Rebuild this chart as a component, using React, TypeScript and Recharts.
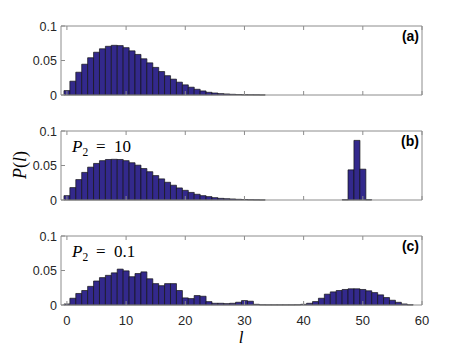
import React from "react";
import { BarChart, Bar, XAxis, YAxis } from "recharts";

// l = 0 .. 60
const lValues = Array.from({ length: 61 }, (_, i) => i);

const probA = [
  0.0064, 0.02, 0.033, 0.0446, 0.054, 0.062, 0.067, 0.0706, 0.072, 0.0716,
  0.0686, 0.064, 0.0588, 0.0525, 0.0466, 0.04, 0.034, 0.028, 0.023, 0.0186,
  0.0147, 0.0113, 0.0083, 0.0059, 0.0039, 0.0029, 0.002, 0.0015, 0.001, 0.0007,
  0.0004, 0.0003, 0.0002, 0.0001, 0, 0, 0, 0, 0, 0,
  0, 0, 0, 0, 0, 0, 0, 0, 0, 0,
  0, 0, 0, 0, 0, 0, 0, 0, 0, 0,
  0,
];

const probB = [
  0.0063, 0.018, 0.0296, 0.04, 0.0476, 0.053, 0.057, 0.0587, 0.059, 0.0587,
  0.057, 0.054, 0.0505, 0.0456, 0.041, 0.0354, 0.0306, 0.0257, 0.0214, 0.0175,
  0.014, 0.011, 0.0083, 0.0063, 0.0049, 0.0034, 0.0024, 0.0019, 0.0015, 0.001,
  0.0007, 0.0004, 0.0002, 0.0001, 0, 0, 0, 0, 0, 0,
  0, 0, 0, 0, 0, 0, 0, 0.0004, 0.0437, 0.0864,
  0.0447, 0.0004, 0, 0, 0, 0, 0, 0, 0, 0,
  0,
];

const probC = [
  0.0015, 0.0098, 0.0167, 0.021, 0.027, 0.0348, 0.0397, 0.043, 0.0466, 0.052,
  0.0495, 0.041, 0.0456, 0.048, 0.038, 0.031, 0.028, 0.031, 0.031, 0.021,
  0.0103, 0.0093, 0.0137, 0.0127, 0.0049, 0.0025, 0.0025, 0.002, 0.0025, 0.004,
  0.0064, 0.0055, 0.001, 0.0003, 0.0002, 0.0002, 0.0002, 0.0002, 0.0002, 0.0003,
  0.001, 0.0025, 0.005, 0.0098, 0.0157, 0.019, 0.021, 0.0225, 0.0235, 0.0235,
  0.0225, 0.0206, 0.018, 0.0147, 0.0108, 0.0069, 0.0039, 0.0015, 0.0003, 0,
  0,
];

const xTicks = [0, 10, 20, 30, 40, 50, 60];
const yTicks = [0, 0.05, 0.1];
const yTickLabels = ["0", "0.05", "0.1"];

const AXIS = "#8c8c8c";
const TEXT = "#262626";
const SANS = "'Liberation Sans', Arial, sans-serif";
const SERIF = "'Liberation Serif', 'Times New Roman', serif";

const toRows = (p: number[]) => lValues.map((l, i) => ({ l, p: p[i] }));

const BottomTick = (props: any) => {
  const { x, y, payload, showLabel } = props;
  return (
    <g>
      <line x1={x} x2={x} y1={y} y2={y - 4} stroke={AXIS} />
      {showLabel && (
        <text x={x} y={y + 20} textAnchor="middle" fontSize={13} fontFamily={SANS} fill={TEXT}>
          {payload.value}
        </text>
      )}
    </g>
  );
};

const TopTick = (props: any) => {
  const { x, y } = props;
  return <line x1={x} x2={x} y1={y} y2={y + 4} stroke={AXIS} />;
};

const LeftTick = (props: any) => {
  const { x, y, payload, index } = props;
  return (
    <g>
      <line x1={x} x2={x + 4} y1={y} y2={y} stroke={AXIS} />
      <text x={x - 4} y={y + 4.5} textAnchor="end" fontSize={12.5} fontFamily={SANS} fill={TEXT}>
        {yTickLabels[index] ?? payload.value}
      </text>
    </g>
  );
};

const RightTick = (props: any) => {
  const { x, y } = props;
  return <line x1={x} x2={x - 4} y1={y} y2={y} stroke={AXIS} />;
};

type PanelProps = { rows: { l: number; p: number }[]; top: number; showXLabels: boolean };

const Panel = ({ rows, top, showXLabels }: PanelProps) => (
  <div style={{ position: "absolute", left: 0, top }}>
    <BarChart
      width={467}
      height={105}
      data={rows}
      margin={{ top: 10, right: 0, left: 0, bottom: 0 }}
      barCategoryGap={0}
      barGap={0}
    >
      <XAxis
        xAxisId="bottom"
        dataKey="l"
        type="number"
        domain={[-1, 60]}
        allowDataOverflow
        ticks={xTicks}
        interval={0}
        orientation="bottom"
        height={25}
        tickSize={0}
        tickMargin={0}
        tickLine={false}
        axisLine={{ stroke: AXIS }}
        tick={<BottomTick showLabel={showXLabels} />}
      />
      <XAxis
        xAxisId="top"
        dataKey="l"
        type="number"
        domain={[-1, 60]}
        allowDataOverflow
        ticks={xTicks}
        interval={0}
        orientation="top"
        height={1}
        tickSize={0}
        tickMargin={0}
        tickLine={false}
        axisLine={{ stroke: AXIS }}
        tick={<TopTick />}
      />
      <YAxis
        yAxisId="left"
        type="number"
        domain={[0, 0.1]}
        ticks={yTicks}
        interval={0}
        width={61}
        tickSize={0}
        tickMargin={0}
        tickLine={false}
        axisLine={{ stroke: AXIS }}
        tick={<LeftTick />}
      />
      <YAxis
        yAxisId="right"
        orientation="right"
        type="number"
        domain={[0, 0.1]}
        ticks={yTicks}
        interval={0}
        width={45}
        tickSize={0}
        tickMargin={0}
        tickLine={false}
        axisLine={{ stroke: AXIS }}
        tick={<RightTick />}
      />
      <Bar
        xAxisId="bottom"
        yAxisId="left"
        dataKey="p"
        fill="#33298c"
        stroke="#141414"
        strokeWidth={0.7}
        isAnimationActive={false}
      />
    </BarChart>
  </div>
);

export default function App() {
  return (
    <div
      style={{
        position: "absolute",
        left: 0,
        top: 0,
        width: 467,
        height: 350,
        background: "#fff",
        overflow: "hidden",
      }}
    >
      <Panel rows={toRows(probA)} top={15} showXLabels={false} />
      <Panel rows={toRows(probB)} top={120} showXLabels={false} />
      <Panel rows={toRows(probC)} top={225} showXLabels={true} />
      <svg
        width={467}
        height={350}
        style={{ position: "absolute", left: 0, top: 0, pointerEvents: "none" }}
      >
        <g fontFamily={SANS} fontWeight="bold" fontSize={14} fill="#000" textAnchor="end">
          <text x={419} y={41}>(a)</text>
          <text x={419} y={146}>(b)</text>
          <text x={419} y={251}>(c)</text>
        </g>
        <g fontFamily={SERIF} fontSize={17} fill="#000">
          <text x={72} y={152}>
            <tspan fontStyle="italic">P</tspan>
            <tspan fontSize={11.5} dy={4}>2</tspan>
            <tspan x={96} dy={-4}>=</tspan>
            <tspan x={114}>10</tspan>
          </text>
          <text x={72} y={257}>
            <tspan fontStyle="italic">P</tspan>
            <tspan fontSize={11.5} dy={4}>2</tspan>
            <tspan x={96} dy={-4}>=</tspan>
            <tspan x={114}>0.1</tspan>
          </text>
          <text transform="translate(26,165) rotate(-90)" textAnchor="middle" fontSize={18}>
            <tspan fontStyle="italic">P</tspan>
            <tspan>(</tspan>
            <tspan fontStyle="italic">l</tspan>
            <tspan>)</tspan>
          </text>
          <text x={241} y={343} textAnchor="middle" fontStyle="italic" fontSize={17}>
            l
          </text>
        </g>
      </svg>
    </div>
  );
}
